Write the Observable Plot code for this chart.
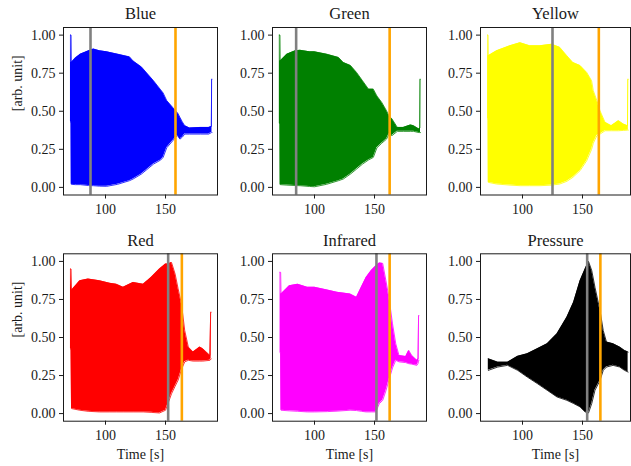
<!DOCTYPE html>
<html>
<head>
<meta charset="utf-8">
<script src="https://cdn.jsdelivr.net/npm/d3@7"></script>
<script src="https://cdn.jsdelivr.net/npm/@observablehq/plot@0.6"></script>
<style>
  html, body { margin: 0; padding: 0; background: #fff; }
  #chart { position: relative; width: 631px; height: 466px; overflow: hidden; }
  #chart > div { position: absolute; }
  svg { overflow: visible; }
</style>
</head>
<body>
<div id="chart"></div>
<script>
// ---- data ----
const titles = ["Blue", "Green", "Yellow", "Red", "Infrared", "Pressure"];
const colors = ["#0000ff", "#008000", "#ffff00", "#ff0000", "#ff00ff", "#000000"];
const grayLines = [87.5, 84.7, 125, 152.2, 151.6, 153.9];
const orangeLines = [158.3, 162.6, 163.6, 163.6, 162.6, 164.9];
const xTicks = [100, 150];
const yTicks = [0, 0.25, 0.5, 0.75, 1.0];
const yLabel = "[arb. unit]";
const xLabel = "Time [s]";

// upper / lower envelopes of the oscillating signals
const blueTime  = [70.8, 71.3, 71.5, 75, 79, 86, 90, 95, 101, 110, 120, 123, 130, 140, 146, 148, 151, 156, 158.5, 160, 162, 164, 166, 170, 179, 186, 188.2, 188.4, 188.7];
const blueUpper = [1.0, 1.0, 0.82, 0.85, 0.875, 0.897, 0.908, 0.897, 0.89, 0.875, 0.857, 0.83, 0.79, 0.70, 0.64, 0.62, 0.57, 0.525, 0.50, 0.49, 0.46, 0.43, 0.405, 0.39, 0.394, 0.394, 0.40, 0.71, 0.71];
const blueLower = [0.43, 0.43, 0.02, 0.018, 0.018, 0.012, 0.011, 0.008, 0.007, 0.02, 0.044, 0.055, 0.088, 0.153, 0.18, 0.197, 0.26, 0.306, 0.33, 0.34, 0.317, 0.33, 0.35, 0.35, 0.35, 0.35, 0.36, 0.36, 0.36];

const greenTime  = [70.7, 71.2, 71.4, 77, 84, 88, 96, 100, 110, 120, 124, 130, 135, 140, 145, 149, 152, 156, 160, 162, 164.5, 169, 174, 180, 182.5, 187, 187.8, 188, 188.3];
const greenUpper = [1.0, 1.0, 0.83, 0.875, 0.897, 0.90, 0.89, 0.89, 0.875, 0.853, 0.82, 0.80, 0.755, 0.70, 0.645, 0.645, 0.60, 0.558, 0.503, 0.47, 0.45, 0.394, 0.394, 0.41, 0.405, 0.383, 0.39, 0.71, 0.71];
const greenLower = [0.42, 0.42, 0.018, 0.015, 0.012, 0.011, 0.006, 0.004, 0.02, 0.044, 0.055, 0.088, 0.12, 0.153, 0.18, 0.197, 0.26, 0.29, 0.317, 0.35, 0.34, 0.368, 0.368, 0.368, 0.368, 0.36, 0.36, 0.36, 0.36];

const yellowTime  = [70.9, 71.3, 71.5, 78.5, 89.6, 98, 106, 114.6, 124.3, 131, 137, 142, 148, 153.5, 157.6, 159, 162, 164.6, 168.8, 174, 180, 184, 187.5, 187.8, 188.2];
const yellowUpper = [1.0, 1.0, 0.864, 0.897, 0.93, 0.95, 0.93, 0.93, 0.94, 0.92, 0.864, 0.82, 0.80, 0.755, 0.70, 0.635, 0.57, 0.503, 0.427, 0.405, 0.438, 0.416, 0.405, 0.71, 0.71];
const yellowLower = [0.45, 0.45, 0.033, 0.022, 0.015, 0.011, 0.011, 0.011, 0.015, 0.022, 0.04, 0.066, 0.11, 0.175, 0.25, 0.29, 0.34, 0.35, 0.372, 0.372, 0.372, 0.374, 0.376, 0.376, 0.376];

const redTime  = [70.8, 71.3, 71.7, 78.6, 85.5, 95, 103.6, 109, 114.7, 123, 131.4, 138, 145, 150, 152, 155, 158, 160.5, 163.3, 166, 169, 173, 178.6, 181, 187, 187.6, 188];
const redUpper = [0.95, 0.95, 0.81, 0.873, 0.884, 0.873, 0.856, 0.85, 0.83, 0.862, 0.85, 0.895, 0.95, 0.983, 0.983, 0.993, 0.917, 0.82, 0.72, 0.546, 0.437, 0.404, 0.437, 0.426, 0.382, 0.666, 0.666];
const redLower = [0.425, 0.425, 0.033, 0.022, 0.015, 0.011, 0.011, 0.011, 0.011, 0.011, 0.011, 0.008, 0.004, 0.022, 0.065, 0.13, 0.18, 0.22, 0.29, 0.34, 0.35, 0.345, 0.345, 0.345, 0.35, 0.36, 0.36];

const infraredTime  = [71.3, 71.8, 72.1, 79, 86, 94, 100, 110.6, 118.8, 129.6, 135, 139, 143, 147.3, 151, 154, 156.8, 159.5, 162, 165, 167.7, 170.4, 176, 178.5, 181, 185.3, 186.3, 186.7, 187];
const infraredUpper = [0.928, 0.928, 0.786, 0.84, 0.85, 0.83, 0.83, 0.812, 0.797, 0.786, 0.764, 0.83, 0.895, 0.94, 0.97, 0.99, 0.987, 0.873, 0.764, 0.59, 0.459, 0.382, 0.375, 0.415, 0.382, 0.35, 0.36, 0.644, 0.644];
const infraredLower = [0.40, 0.40, 0.022, 0.018, 0.015, 0.011, 0.011, 0.013, 0.016, 0.022, 0.02, 0.015, 0.011, 0.011, 0.011, 0.065, 0.087, 0.15, 0.22, 0.30, 0.35, 0.34, 0.335, 0.328, 0.325, 0.317, 0.33, 0.35, 0.35];

const pressureTime  = [71.5, 79.4, 87.6, 96, 104, 112.4, 120.6, 128.8, 137, 142.6, 148, 152.2, 155, 157.7, 160.4, 164.6, 167.3, 170, 175.5, 181, 185, 188];
const pressureUpper = [0.36, 0.338, 0.338, 0.376, 0.393, 0.426, 0.459, 0.524, 0.633, 0.731, 0.873, 0.95, 1.0, 0.94, 0.83, 0.677, 0.546, 0.47, 0.459, 0.437, 0.415, 0.404];
const pressureLower = [0.284, 0.306, 0.317, 0.284, 0.24, 0.197, 0.153, 0.109, 0.087, 0.066, 0.044, 0.011, 0.004, 0.066, 0.153, 0.218, 0.284, 0.306, 0.317, 0.306, 0.284, 0.273];

const series = [
  [blueTime, blueUpper, blueLower],
  [greenTime, greenUpper, greenLower],
  [yellowTime, yellowUpper, yellowLower],
  [redTime, redUpper, redLower],
  [infraredTime, infraredUpper, infraredLower],
  [pressureTime, pressureUpper, pressureLower]
];

// ---- layout ----
const cols = [
  {left: 0,   width: 220, ml: 63, mr: 3, domain: [65, 193.3]},
  {left: 220, width: 210, ml: 52, mr: 4, domain: [65, 193.3]},
  {left: 430, width: 201, ml: 50, mr: 1, domain: [65, 190]}
];
const rows = [
  {top: 0,   height: 230, mt: 27,   mb: 35.5, titleDy: -14},
  {top: 230, height: 236, mt: 23.3, mb: 45.3, titleDy: -13.5}
];

const FONT = "'Liberation Serif', 'Times New Roman', serif";
const ink = "#1a1a1a";
const chart = document.getElementById("chart");

series.forEach(([T, U, L], i) => {
  const r = Math.floor(i / 3), c = i % 3;
  const col = cols[c], row = rows[r];
  const data = T.map((t, k) => ({t, hi: U[k], lo: L[k]}));
  const marks = [
    Plot.areaY(data, {x: "t", y1: "lo", y2: "hi", fill: colors[i], curve: "linear"}),
    Plot.lineY(data, {x: "t", y: "hi", stroke: colors[i], strokeWidth: 0.8}),
    Plot.lineY(data, {x: "t", y: "lo", stroke: colors[i], strokeWidth: 0.8}),
    Plot.ruleX([grayLines[i]], {stroke: "#808080", strokeWidth: 2.6}),
    Plot.ruleX([orangeLines[i]], {stroke: "#ffa500", strokeWidth: 2.6}),
    Plot.frame({stroke: ink, strokeWidth: 1}),
    Plot.axisX(xTicks, {tickSize: 4, tickPadding: 5, stroke: ink, fill: ink, fontSize: 14, label: null}),
    Plot.axisY(yTicks, {tickSize: 4, tickPadding: 4, stroke: ink, fill: ink, fontSize: 14, tickFormat: d3.format(".2f"), label: null}),
    Plot.text([titles[i]], {frameAnchor: "top", lineAnchor: "middle", dy: row.titleDy, fontSize: 16.5, fill: ink})
  ];
  if (c === 0) {
    marks.push(Plot.text([yLabel], {frameAnchor: "left", dx: -46, rotate: -90, fontSize: 14, fill: ink}));
  }
  if (r === 1) {
    marks.push(Plot.text([xLabel], {frameAnchor: "bottom", lineAnchor: "middle", dy: 33, fontSize: 14, fill: ink}));
  }
  const svg = Plot.plot({
    width: col.width,
    height: row.height,
    marginLeft: col.ml,
    marginRight: col.mr,
    marginTop: row.mt,
    marginBottom: row.mb,
    style: {fontFamily: FONT, background: "transparent", color: ink, overflow: "visible"},
    x: {domain: col.domain, label: null, axis: null},
    y: {domain: [-0.05, 1.05], label: null, axis: null},
    marks
  });
  const holder = document.createElement("div");
  holder.style.left = col.left + "px";
  holder.style.top = row.top + "px";
  holder.appendChild(svg);
  chart.appendChild(holder);
});
</script>
</body>
</html>
